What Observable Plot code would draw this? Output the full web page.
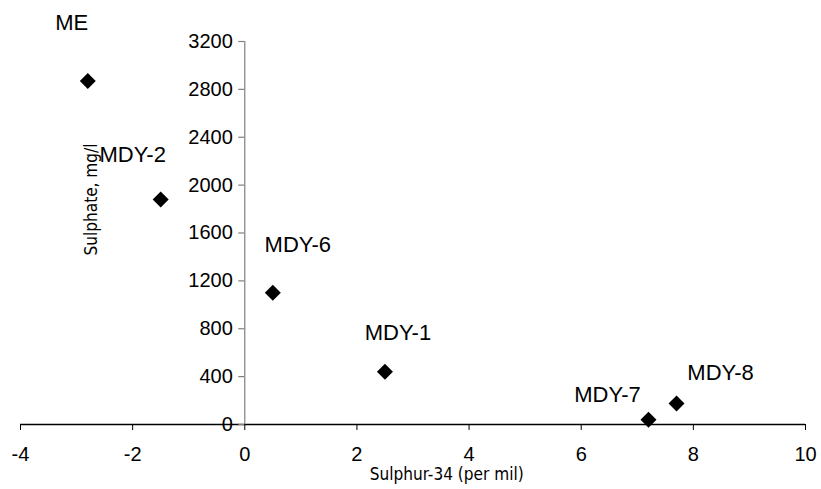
<!DOCTYPE html>
<html>
<head>
<meta charset="utf-8">
<script src="https://cdn.jsdelivr.net/npm/d3@7"></script>
<script src="https://cdn.jsdelivr.net/npm/@observablehq/plot@0.6"></script>
<style>
  html, body { margin: 0; padding: 0; background: #fff; }
  #chart svg { display: block; }
</style>
</head>
<body>
<div id="chart"></div>
<script>
// Data
const sites = ["ME", "MDY-2", "MDY-6", "MDY-1", "MDY-7", "MDY-8"];
const sulphur34 = [-2.8, -1.5, 0.5, 2.5, 7.2, 7.7];
const sulphate = [2870, 1880, 1100, 440, 40, 175];
const xTicks = [-4, -2, 0, 2, 4, 6, 8, 10];
const yTicks = [0, 400, 800, 1200, 1600, 2000, 2400, 2800, 3200];
const xTitle = "Sulphur-34 (per mil)";
const yTitle = "Sulphate, mg/l";

const data = sites.map((s, i) => ({site: s, x: sulphur34[i], y: sulphate[i]}));

// label placement (style, px offsets from each point)
const labelOffset = {
  "ME": [-16, -58],
  "MDY-2": [-28, -45],
  "MDY-6": [25, -48],
  "MDY-1": [13, -39],
  "MDY-7": [-41, -25],
  "MDY-8": [44, -31]
};

const font = "'Liberation Sans', Arial, sans-serif";
const narrow = "'Liberation Sans Narrow', 'Arial Narrow', 'DejaVu Sans Condensed', sans-serif";

const chart = Plot.plot({
  width: 821,
  height: 489,
  marginLeft: 20,
  marginRight: 16,
  marginTop: 41,
  marginBottom: 65,
  style: {fontFamily: font, fontSize: "20px", color: "#000", background: "#fff"},
  x: {domain: [-4, 10], ticks: xTicks, tickFormat: d => String(d)},
  y: {domain: [0, 3200], ticks: yTicks, axis: null},
  marks: [
    // x axis
    Plot.axisX({ticks: xTicks, tickSize: 6, tickPadding: 16, fontSize: 20, stroke: "#000", strokeWidth: 1, label: null, tickFormat: d => String(d)}),
    Plot.ruleY([0], {stroke: "#000", strokeWidth: 1.3}),
    Plot.text([xTitle], {x: 3.6, y: 0, dy: 50, text: d => d, fontFamily: narrow, fontSize: 17, fill: "#000", className: "xtitle"}),
    // y axis drawn at x = 0
    Plot.ruleX([0], {y1: 0, y2: 3200, stroke: "#808080", strokeWidth: 1.2}),
    Plot.ruleY(yTicks, {x1: 0, x2: 0, insetLeft: -6, stroke: "#808080", strokeWidth: 1.2}),
    Plot.text(yTicks, {x: 0, y: d => d, text: d => String(d), textAnchor: "end", dx: -12, fontSize: 20, fill: "#000"}),
    Plot.text([yTitle], {x: -2.73, y: 1880, text: d => d, rotate: -90, textAnchor: "middle", fontFamily: narrow, fontSize: 17, fill: "#000", className: "ytitle"}),
    // points
    Plot.dot(data, {x: "x", y: "y", symbol: "diamond2", r: 7.2, fill: "#000", stroke: "none"}),
    // labels
    ...data.map(d => Plot.text([d], {
      x: "x", y: "y", text: "site",
      dx: labelOffset[d.site][0], dy: labelOffset[d.site][1],
      fontSize: 22, fill: "#000"
    }))
  ]
});

document.getElementById("chart").appendChild(chart);

// force the narrow (condensed) look of the axis titles
const fitText = (str, len) => {
  d3.select(chart).selectAll("text").filter(function() { return this.textContent === str; })
    .attr("textLength", len).attr("lengthAdjust", "spacingAndGlyphs");
};
fitText(xTitle, 154);
fitText(yTitle, 112);
</script>
</body>
</html>
